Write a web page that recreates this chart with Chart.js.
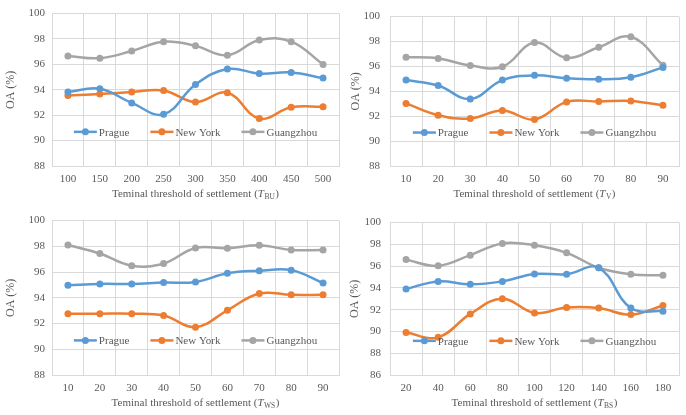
<!DOCTYPE html>
<html>
<head>
<meta charset="utf-8">
<script src="https://cdn.jsdelivr.net/npm/chart.js@4.4.0/dist/chart.umd.min.js"></script>
<style>
  body { margin: 0; background: #fff; }
  .box { position: absolute; }
</style>
</head>
<body>
<div class="box" style="left:0;top:0;width:343px;height:207px"><canvas id="c1"></canvas></div>
<div class="box" style="left:343px;top:0;width:343px;height:207px"><canvas id="c2"></canvas></div>
<div class="box" style="left:0;top:207px;width:343px;height:208px"><canvas id="c3"></canvas></div>
<div class="box" style="left:343px;top:207px;width:343px;height:208px"><canvas id="c4"></canvas></div>
<script>
const buLabels = ["100", "150", "200", "250", "300", "350", "400", "450", "500"]
const buPrague = [93.82, 94.08, 92.97, 92.07, 94.41, 95.64, 95.28, 95.36, 94.92]
const buNewYork = [93.56, 93.67, 93.82, 93.95, 93.03, 93.77, 91.74, 92.62, 92.67]
const buGuangzhou = [96.67, 96.49, 97.05, 97.79, 97.46, 96.72, 97.92, 97.79, 96.00]

const vLabels = ["10", "20", "30", "40", "50", "60", "70", "80", "90"]
const vPrague = [94.90, 94.46, 93.38, 94.90, 95.28, 95.05, 94.97, 95.13, 95.92]
const vNewYork = [93.03, 92.08, 91.82, 92.46, 91.74, 93.15, 93.18, 93.23, 92.87]
const vGuangzhou = [96.74, 96.64, 96.08, 95.97, 97.92, 96.69, 97.54, 98.38, 96.10]

const wsLabels = ["10", "20", "30", "40", "50", "60", "70", "80", "90"]
const wsPrague = [94.97, 95.08, 95.08, 95.18, 95.23, 95.90, 96.10, 96.15, 95.15]
const wsNewYork = [92.77, 92.77, 92.77, 92.62, 91.72, 93.03, 94.33, 94.23, 94.23]
const wsGuangzhou = [98.10, 97.44, 96.49, 96.67, 97.87, 97.85, 98.08, 97.72, 97.72]

const bsLabels = ["20", "40", "60", "80", "100", "120", "140", "160", "180"]
const bsPrague = [93.91, 94.60, 94.33, 94.60, 95.28, 95.25, 95.85, 92.15, 91.85]
const bsNewYork = [89.90, 89.46, 91.61, 93.01, 91.70, 92.21, 92.15, 91.55, 92.39]
const bsGuangzhou = [96.60, 96.03, 97.01, 98.09, 97.91, 97.22, 95.85, 95.25, 95.16]

const seriesNames = ["Prague", "New York", "Guangzhou"]
const seriesColors = ["#5B9BD5", "#ED7D31", "#A5A5A5"]

const serif = "'Liberation Serif', 'Times New Roman', serif"
const textColor = "#595959"
const gridColor = "#D9D9D9"

// legend drawn inside the plot, like the Excel one
const insideLegend = {
  id: "insideLegend",
  afterDatasetsDraw(chart) {
    const ctx = chart.ctx
    const area = chart.chartArea
    const y = area.bottom - (area.bottom - area.top) * 0.224
    const lineLen = 23
    const gap = 21
    ctx.save()
    ctx.font = "11px " + serif
    const widths = chart.data.datasets.map(ds => lineLen + 2 + ctx.measureText(ds.label).width)
    const total = widths.reduce((a, b) => a + b, 0) + gap * (widths.length - 1)
    let x = (area.left + area.right) / 2 - total / 2
    chart.data.datasets.forEach((ds, i) => {
      ctx.strokeStyle = ds.borderColor
      ctx.lineWidth = 2.5
      ctx.beginPath()
      ctx.moveTo(x, y)
      ctx.lineTo(x + lineLen, y)
      ctx.stroke()
      ctx.fillStyle = ds.borderColor
      ctx.beginPath()
      ctx.arc(x + lineLen / 2, y, 3.5, 0, Math.PI * 2)
      ctx.fill()
      ctx.fillStyle = textColor
      ctx.textBaseline = "middle"
      ctx.textAlign = "left"
      ctx.fillText(ds.label, x + lineLen + 2, y + 1)
      x += widths[i] + gap
    })
    ctx.restore()
  }
}

// x title with italic T and a subscript
const xTitle = {
  id: "xTitle",
  afterDraw(chart, args, opts) {
    const ctx = chart.ctx
    const area = chart.chartArea
    const y = area.bottom + 28
    const main = "Teminal threshold of settlement ("
    ctx.save()
    ctx.textBaseline = "middle"
    ctx.textAlign = "left"
    ctx.font = "11px " + serif
    const w1 = ctx.measureText(main).width
    const w4 = ctx.measureText(")").width
    ctx.font = "italic 11px " + serif
    const w2 = ctx.measureText("T").width
    ctx.font = "7.5px " + serif
    const w3 = ctx.measureText(opts.sub).width
    let x = (area.left + area.right) / 2 - (w1 + w2 + w3 + w4 + 1) / 2
    ctx.fillStyle = textColor
    ctx.font = "11px " + serif
    ctx.fillText(main, x, y)
    x += w1
    ctx.font = "italic 11px " + serif
    ctx.fillText("T", x, y)
    x += w2 + 0.5
    ctx.font = "7.5px " + serif
    ctx.fillText(opts.sub, x, y + 3)
    x += w3 + 0.5
    ctx.font = "11px " + serif
    ctx.fillText(")", x, y)
    ctx.restore()
  }
}

const makeChart = (id, labels, prague, newYork, guangzhou, yMin, sub, box) => {
  const values = [prague, newYork, guangzhou]
  new Chart(document.getElementById(id), {
    type: "line",
    data: {
      labels: labels,
      datasets: values.map((v, i) => ({
        label: seriesNames[i],
        data: v,
        borderColor: seriesColors[i],
        backgroundColor: seriesColors[i],
        borderWidth: 2.5,
        pointRadius: 3.5,
        pointBorderWidth: 0,
        tension: 0.4,
        fill: false
      }))
    },
    options: {
      responsive: true,
      maintainAspectRatio: false,
      animation: false,
      layout: { padding: { top: box.top, right: box.right, left: 0, bottom: 0 } },
      plugins: {
        legend: { display: false },
        tooltip: { enabled: false },
        xTitle: { sub: sub }
      },
      scales: {
        x: {
          offset: true,
          grid: { offset: true, color: gridColor, drawTicks: false },
          border: { color: gridColor },
          ticks: { color: textColor, font: { family: serif, size: 11 }, padding: 7, maxRotation: 0 },
          afterFit: scale => { scale.height = box.xHeight }
        },
        y: {
          min: yMin,
          max: 100,
          ticks: { stepSize: 2, color: textColor, font: { family: serif, size: 11 }, padding: box.tickPad },
          grid: { color: gridColor, drawTicks: false },
          border: { color: gridColor },
          title: { display: true, text: "OA (%)", color: textColor, font: { family: serif, size: 12 }, padding: { top: box.titlePad, bottom: 0 } },
          afterFit: scale => { scale.width = box.yWidth }
        }
      }
    },
    plugins: [insideLegend, xTitle]
  })
}

makeChart("c1", buLabels, buPrague, buNewYork, buGuangzhou, 88, "BU", { top: 9, right: 2, xHeight: 41, yWidth: 52, tickPad: 7, titlePad: 4 })
makeChart("c2", vLabels, vPrague, vNewYork, vGuangzhou, 88, "V", { top: 9, right: 7, xHeight: 41, yWidth: 47, tickPad: 10, titlePad: 6 })
makeChart("c3", wsLabels, wsPrague, wsNewYork, wsGuangzhou, 88, "WS", { top: 13, right: 1, xHeight: 40, yWidth: 52, tickPad: 7, titlePad: 4 })
makeChart("c4", bsLabels, bsPrague, bsNewYork, bsGuangzhou, 86, "BS", { top: 13, right: 7, xHeight: 40, yWidth: 47, tickPad: 9, titlePad: 5 })
</script>
</body>
</html>
